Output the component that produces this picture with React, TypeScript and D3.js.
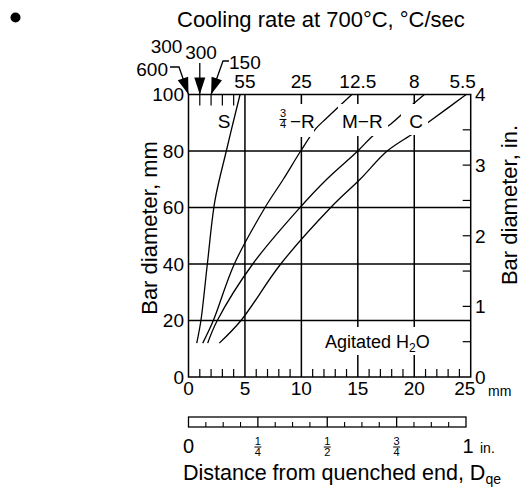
import React from "react";
import * as d3 from "d3";

const W = 521;
const H = 496;

// Axis values
const xLabelsMM = [0, 5, 10, 15, 20, 25];
const xGridMM = [5, 10, 15, 20];
const xMinorMM = [1,2,3,4,6,7,8,9,11,12,13,14,16,17,18,19,21,22,23,24];
const topMinorMM = [1, 2, 3, 4];
const yLabelsMM = [0, 20, 40, 60, 80, 100];
const yGridMM = [20, 40, 60, 80];
const yInLabels = [0, 1, 2, 3, 4];
const yInTicks = [0.5, 1, 1.5, 2, 2.5, 3, 3.5];

// Cooling rate scale (top)
const coolingPos = [5, 10, 15, 20, 25];
const coolingLabels = ["55", "25", "12.5", "8", "5.5"];
const arrowPos = [0, 1, 2];
const arrowLabels = ["600", "300", "150"];

// Inch bar
const inchQuarterPos = [0.25, 0.5, 0.75];
const inchQuarterNum = ["1", "1", "3"];
const inchQuarterDen = ["4", "2", "4"];
const inchSixteenths = [1,2,3,5,6,7,9,10,11,13,14,15];

// Curves: [distance mm, bar diameter mm]
const curveS: [number, number][] = [[0.73,12],[1.1,20],[1.67,40],[2.35,62.6],[3.35,80],[3.95,90],[4.57,100]];
const curveR34: [number, number][] = [[1.26,12],[2.2,20],[4.06,40],[6.78,60],[8.4,70],[9.94,80],[11.3,88],[12.2,91.5],[14.47,100]];
const curveMR: [number, number][] = [[1.7,12],[2.55,20],[5.69,40],[9.88,60],[12.25,70],[15.0,80],[16.4,85.6],[17.9,89.5],[19.8,96.3],[20.9,100]];
const curveC: [number, number][] = [[2.73,12],[4.65,20],[8.17,40],[12.6,60],[15.2,70],[17.6,80],[19.9,86.2],[21.4,90.6],[24.6,100]];
const curves = [curveS, curveR34, curveMR, curveC];

const FONT = "'Liberation Sans', Arial, Helvetica, sans-serif";

export default function App() {
  const x = d3.scaleLinear().domain([0, 25]).range([188.5, 470.7]);
  const y = d3.scaleLinear().domain([0, 100]).range([377, 94.5]);
  const yIn = d3.scaleLinear().domain([0, 4]).range([377, 94.5]);
  const xIn = d3.scaleLinear().domain([0, 1]).range([188.5, 466]);
  const line = d3.line<[number, number]>().x(d => x(d[0])).y(d => y(d[1])).curve(d3.curveCatmullRom.alpha(0.5));
  const [x0, x1] = x.range();
  const [y0, y1] = y.range();
  const sw = 1.5;

  return (
    <svg width={W} height={H} style={{ position: "absolute", left: 0, top: 0, background: "#fff" }} fontFamily={FONT}>
      <defs>
        <marker id="ah" markerUnits="userSpaceOnUse" markerWidth="20" markerHeight="14" viewBox="-18 -7 20 14" refX="0" refY="0" orient="auto">
          <path d="M0,0 L-17,-5.5 L-17,5.5 Z" fill="#000" />
        </marker>
      </defs>
      <circle cx={15.5} cy={17.5} r={5} fill="#000" />

      {/* Title */}
      <text x={177} y={27} fontSize={22}>Cooling rate at 700°C, °C/sec</text>

      {/* Grid */}
      {xGridMM.map(v => <line key={"gx" + v} x1={x(v)} x2={x(v)} y1={y0} y2={y1} stroke="#000" strokeWidth={sw} />)}
      {yGridMM.map(v => <line key={"gy" + v} x1={x0} x2={x1} y1={y(v)} y2={y(v)} stroke="#000" strokeWidth={sw} />)}
      {xMinorMM.map(v => <line key={"bx" + v} x1={x(v)} x2={x(v)} y1={y0} y2={y0 - 8} stroke="#000" strokeWidth={1.2} />)}
      {topMinorMM.map(v => <line key={"tx" + v} x1={x(v)} x2={x(v)} y1={y1} y2={y1 + 11} stroke="#000" strokeWidth={1.2} />)}
      {yInTicks.map(v => <line key={"ri" + v} x1={x1} x2={x1 - 8} y1={yIn(v)} y2={yIn(v)} stroke="#000" strokeWidth={1.2} />)}

      {/* Curves */}
      {curves.map((c, i) => <path key={"c" + i} d={line(c) || ""} fill="none" stroke="#000" strokeWidth={1.3} />)}

      {/* Curve label boxes */}
      <rect x={275} y={104} width={39} height={33} fill="#fff" />
      <rect x={338} y={104} width={50} height={32} fill="#fff" />
      <rect x={401} y={104} width={27} height={31} fill="#fff" />
      <rect x={320} y={327} width={120} height={28} fill="#fff" />

      {/* Frame */}
      <rect x={x0} y={y1} width={x1 - x0} height={y0 - y1} fill="none" stroke="#000" strokeWidth={sw} />

      {/* Curve labels */}
      <text x={224} y={128} fontSize={19} textAnchor="middle">S</text>
      <text x={283} y={117} fontSize={11} textAnchor="middle">3</text>
      <line x1={279.5} x2={286.5} y1={119.5} y2={119.5} stroke="#000" strokeWidth={1} />
      <text x={283} y={128} fontSize={11} textAnchor="middle">4</text>
      <text x={290} y={128} fontSize={19}>−R</text>
      <text x={342} y={128} fontSize={19}>M−R</text>
      <text x={416} y={128} fontSize={19} textAnchor="middle">C</text>
      <text x={325} y={348} fontSize={18}>Agitated H<tspan fontSize={12} dy={4}>2</tspan><tspan dy={-4}>O</tspan></text>

      {/* Left axis labels */}
      {yLabelsMM.map(v => <text key={"yl" + v} x={184} y={y(v)} dy="0.36em" fontSize={19} textAnchor="end">{v}</text>)}
      {/* Right axis labels */}
      {yInLabels.map(v => <text key={"yr" + v} x={475} y={yIn(v)} dy="0.36em" fontSize={19}>{v}</text>)}
      {/* Bottom labels */}
      {xLabelsMM.map((v, i) => <text key={"xl" + v} x={x(v) - (i === xLabelsMM.length - 1 ? 6 : 0)} y={395} fontSize={19} textAnchor="middle">{v}</text>)}
      <text x={488} y={396} fontSize={14}>mm</text>

      {/* Top cooling labels */}
      {coolingPos.map((v, i) => <text key={"cl" + v} x={x(v) - (i === coolingPos.length - 1 ? 8 : 0)} y={88} fontSize={19} textAnchor="middle">{coolingLabels[i]}</text>)}

      {/* Arrows */}
      <path d={`M170,67 H179 L${x(arrowPos[0])},${y1}`} fill="none" stroke="#000" strokeWidth={1.3} markerEnd="url(#ah)" />
      <path d={`M${x(arrowPos[1])},63 L${x(arrowPos[1])},${y1}`} fill="none" stroke="#000" strokeWidth={1.3} markerEnd="url(#ah)" />
      <path d={`M229,61 H223 L${x(arrowPos[2])},${y1}`} fill="none" stroke="#000" strokeWidth={1.3} markerEnd="url(#ah)" />
      <text x={168} y={76} fontSize={19} textAnchor="end">{arrowLabels[0]}</text>
      <text x={201} y={59} fontSize={19} textAnchor="middle">{arrowLabels[1]}</text>
      <text x={166.5} y={53} fontSize={19} textAnchor="middle">{arrowLabels[1]}</text>
      <text x={229} y={69} fontSize={19}>{arrowLabels[2]}</text>

      {/* Inch bar */}
      <rect x={xIn(0)} y={417} width={xIn(1) - xIn(0)} height={10} fill="none" stroke="#000" strokeWidth={1.3} />
      {inchSixteenths.map(v => <line key={"is" + v} x1={xIn(v / 16)} x2={xIn(v / 16)} y1={427} y2={422} stroke="#000" strokeWidth={1.1} />)}
      {inchQuarterPos.map(v => <line key={"iq" + v} x1={xIn(v)} x2={xIn(v)} y1={417} y2={427} stroke="#000" strokeWidth={1.3} />)}
      <text x={xIn(0)} y={453} fontSize={20} textAnchor="middle">0</text>
      {inchQuarterPos.map((v, i) => (
        <g key={"fq" + v}>
          <text x={xIn(v)} y={445} fontSize={11} textAnchor="middle">{inchQuarterNum[i]}</text>
          <line x1={xIn(v) - 3.5} x2={xIn(v) + 3.5} y1={447} y2={447} stroke="#000" strokeWidth={1} />
          <text x={xIn(v)} y={456} fontSize={11} textAnchor="middle">{inchQuarterDen[i]}</text>
        </g>
      ))}
      <text x={xIn(1) + 2} y={453} fontSize={20} textAnchor="middle">1</text>
      <text x={xIn(1) + 14} y={453} fontSize={14}>in.</text>

      {/* Bottom title */}
      <text x={183} y={480} fontSize={21.5}>Distance from quenched end, D<tspan fontSize={14} dy={4}>qe</tspan></text>

      {/* Axis titles */}
      <text transform="translate(157,228) rotate(-90)" fontSize={22} textAnchor="middle">Bar diameter, mm</text>
      <text transform="translate(517,205) rotate(-90)" fontSize={22} textAnchor="middle">Bar diameter, in.</text>
    </svg>
  );
}
